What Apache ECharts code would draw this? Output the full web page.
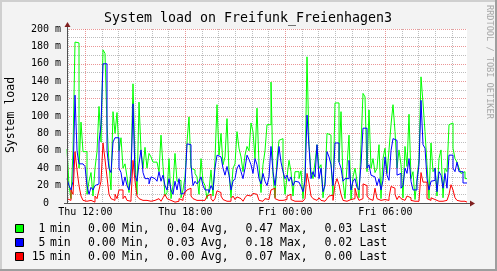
<!DOCTYPE html>
<html><head><meta charset="utf-8">
<script src="https://cdn.jsdelivr.net/npm/echarts@6/dist/echarts.min.js"></script>
<style>html,body{margin:0;padding:0;background:#f3f3f3}#c{width:497px;height:271px}</style>
</head><body><div id="c"></div>
<script>
// time axis in hours since Thu 00:00; first sample starts Thu 10:54, 7.2 min per sample
const startHour = 10.9;
const stepHours = 0.12;

// load values in milli (m)
const load1 = [
 62,20,5,60,185,184,40,93,59,59,
 10,25,35,8,40,59,111,70,176,172,
 90,45,15,105,80,104,60,75,40,45,
 30,12,40,137,50,10,116,60,40,64,
 40,57,53,47,47,45,36,78,42,8,
 12,51,5,20,57,25,26,6,15,30,
 70,99,40,38,34,30,10,51,25,20,
 5,15,38,8,50,113,55,80,44,53,
 97,36,6,40,45,82,63,53,36,55,
 65,60,92,82,51,109,44,12,44,60,
 90,90,139,32,6,50,72,74,40,10,
 30,49,36,8,36,36,28,37,5,32,
 168,67,36,28,47,67,40,44,6,25,
 80,78,46,8,115,115,47,105,25,5,
 42,78,4,30,40,25,6,67,126,122,
 36,107,40,51,35,40,67,5,51,63,
 34,61,90,113,82,40,61,44,6,65,
 42,102,28,36,4,28,51,145,115,82,
 44,5,69,36,40,8,51,61,6,40,
 36,90,92,63,51,47,40,34,36,28
];
const load5 = [
 28,20,15,25,124,60,45,45,47,42,
 20,10,18,15,20,22,70,90,160,160,
 60,40,35,70,75,75,40,35,20,30,
 20,15,30,114,32,25,45,61,35,28,
 28,22,30,28,30,25,36,25,32,20,
 15,28,15,10,25,15,28,10,12,20,
 68,67,44,20,25,22,25,30,20,15,
 15,12,20,15,40,55,53,53,40,32,
 42,32,15,25,28,40,44,36,28,40,
 55,50,44,34,51,44,28,22,34,25,
 20,30,65,36,20,40,65,47,36,28,
 32,25,30,20,25,24,25,19,13,25,
 101,65,28,36,30,67,28,40,13,20,
 59,53,44,20,69,69,47,40,25,28,
 28,49,15,25,28,18,15,44,86,86,
 40,44,32,30,30,20,28,15,26,53,
 32,26,60,74,72,32,34,17,20,40,
 34,51,25,15,15,25,44,118,67,63,
 28,15,25,26,40,13,36,32,17,34,
 17,55,55,40,36,47,36,36,23,23
];
const load15 = [
 5,3,15,10,59,38,20,8,3,2,
 2,3,2,1,8,5,15,25,69,50,
 30,10,5,3,10,5,15,15,5,8,
 3,2,5,49,25,8,5,3,2,3,
 2,2,4,3,2,5,3,2,6,10,
 5,3,2,1,3,2,5,3,6,12,
 15,17,8,5,3,2,3,3,3,2,
 8,10,5,2,5,14,12,8,4,2,
 3,2,5,8,4,7,5,3,2,6,
 9,8,9,11,10,8,3,2,3,5,
 4,3,15,17,5,3,2,3,2,4,
 8,10,4,2,3,2,1,2,2,5,
 34,23,8,5,3,4,6,3,2,3,
 5,8,9,3,21,28,21,10,3,2,
 3,4,2,5,17,8,3,5,22,20,
 8,5,3,4,17,5,3,2,4,5,
 3,6,19,17,10,4,8,5,3,5,
 8,6,3,2,1,2,4,35,24,24,
 5,3,6,4,3,2,3,2,1,3,
 4,10,21,15,6,3,2,3,2,1
];

const xMajorTicks = [12, 18, 24, 30];
const xMajorLabels = ['Thu 12:00', 'Thu 18:00', 'Fri 00:00', 'Fri 06:00'];
const xMinorTicks = [11,13,14,15,16,17,19,20,21,22,23,25,26,27,28,29,31,32,33,34];
const yMin = 0, yMax = 200, yStep = 20;

const legendNames = ['1 min', '5 min', '15 min'];
const legendColors = ['#00ff00', '#0000ff', '#ff0000'];
const legendMin = ['0.00', '0.00', '0.00'];
const legendAvg = ['0.04', '0.03', '0.00'];
const legendMax = ['0.47', '0.18', '0.07'];
const legendLast = ['0.03', '0.02', '0.00'];

const titleText = 'System load on Freifunk_Freienhagen3';
const yName = 'System load';
const watermark = 'RRDTOOL / TOBI OETIKER';

// layout
const G = {left: 67, top: 29, width: 400, height: 174};
const MONO = '"DejaVu Sans Mono", monospace';

function toPairs(arr) {
  const p = arr.map((v, i) => [startHour + i * stepHours, v]);
  p.push([startHour + arr.length * stepHours, arr[arr.length - 1]]);
  return p;
}
const xMin = startHour, xMax = startHour + load1.length * stepHours;

const chart = echarts.init(document.getElementById('c'), null, {renderer: 'canvas'});

const graphics = [];
// frame
graphics.push({type:'rect', shape:{x:0,y:0,width:497,height:2}, style:{fill:'#cfcfcf'}, silent:true});
graphics.push({type:'rect', shape:{x:0,y:0,width:2,height:271}, style:{fill:'#cfcfcf'}, silent:true});
graphics.push({type:'rect', shape:{x:495,y:0,width:2,height:271}, style:{fill:'#9e9e9e'}, silent:true});
graphics.push({type:'rect', shape:{x:0,y:269,width:497,height:2}, style:{fill:'#9e9e9e'}, silent:true});
// title
graphics.push({type:'text', x:248, y:19, style:{text:titleText, font:'13.3px ' + MONO, fill:'#000', align:'center', verticalAlign:'middle'}, silent:true});
// y name
graphics.push({type:'text', x:11, y:115, rotation:Math.PI/2, style:{text:yName, font:'11.5px ' + MONO, fill:'#000', align:'center', verticalAlign:'middle'}, silent:true});
// watermark
graphics.push({type:'text', x:489, y:5, rotation:-Math.PI/2, style:{text:watermark, font:'8.6px ' + MONO, fill:'#a8a8a8', align:'left', verticalAlign:'middle'}, silent:true});
// axes lines and arrows
const axisCol = '#505050', arrowCol = '#7f1f1f';
const x0 = G.left + 0.5, y0 = G.top + G.height + 0.5;
graphics.push({type:'line', shape:{x1:x0, y1:y0, x2:x0, y2:G.top - 3}, style:{stroke:axisCol, lineWidth:1}, silent:true, z:100});
graphics.push({type:'line', shape:{x1:G.left - 3, y1:y0, x2:G.left + G.width + 3, y2:y0}, style:{stroke:axisCol, lineWidth:1}, silent:true, z:100});
graphics.push({type:'polygon', shape:{points:[[x0, G.top - 7],[x0 - 3, G.top - 2],[x0 + 3, G.top - 2]]}, style:{fill:arrowCol}, silent:true, z:100});
graphics.push({type:'polygon', shape:{points:[[G.left + G.width + 8, y0],[G.left + G.width + 3, y0 - 3],[G.left + G.width + 3, y0 + 3]]}, style:{fill:arrowCol}, silent:true, z:100});
// legend
const rowY = [229, 243, 257];
const legFont = '11.5px ' + MONO;
legendNames.forEach((name, i) => {
  const parts = name.split(' ');
  const cy = rowY[i];
  graphics.push({type:'rect', shape:{x:15.5, y:cy - 4.5, width:8, height:8}, style:{fill:legendColors[i], stroke:'#000', lineWidth:1}, silent:true});
  const t = (text, x, align) => graphics.push({type:'text', x:x, y:cy, style:{text:text, font:legFont, fill:'#000', align:align || 'left', verticalAlign:'middle'}, silent:true});
  t(parts[0], 45.5, 'right');
  t(parts[1], 50);
  t(legendMin[i], 88);  t('Min,', 122);
  t(legendAvg[i], 167); t('Avg,', 201);
  t(legendMax[i], 245.5); t('Max,', 280);
  t(legendLast[i], 324.5); t('Last', 359.5);
});

const mkSeries = (data, color) => ({
  type:'line', xAxisIndex:0, yAxisIndex:0, data: toPairs(data), step:'end', symbol:'none', showSymbol:false,
  lineStyle:{color:color, width:1}, itemStyle:{color:color}, animation:false, silent:true
});

chart.setOption({
  backgroundColor:'#f3f3f3',
  animation:false,
  grid:{left:G.left, top:G.top, width:G.width, height:G.height, show:true, backgroundColor:'#ffffff', borderWidth:0, containLabel:false},
  xAxis:[{
    type:'value', min:xMin, max:xMax,
    axisLine:{show:false},
    axisTick:{show:false, customValues:xMajorTicks},
    axisLabel:{show:true, customValues:xMajorTicks, margin:4, color:'#000', fontFamily:'DejaVu Sans Mono', fontSize:10,
      formatter:(v) => { const k = xMajorTicks.indexOf(v); return k >= 0 ? xMajorLabels[k] : ''; }},
    splitLine:{show:true, lineStyle:{color:'rgba(222,80,80,0.6)', width:1, type:[1,1]}},
    z:2
  },{
    type:'value', min:xMin, max:xMax, gridIndex:0,
    axisLine:{show:false},
    axisTick:{show:false, customValues:xMinorTicks},
    axisLabel:{show:false, customValues:xMinorTicks},
    splitLine:{show:true, lineStyle:{color:'#bdbdbd', width:1, type:[1,1]}},
    z:1
  }],
  yAxis:{
    type:'value', min:yMin, max:yMax, interval:yStep,
    axisLine:{show:false}, axisTick:{show:false},
    axisLabel:{margin:6, color:'#000', fontFamily:'DejaVu Sans Mono', fontSize:10,
      formatter:(v) => v === 0 ? '0  ' : v + ' m'},
    splitLine:{show:true, lineStyle:{color:'rgba(222,80,80,0.6)', width:1, type:[1,1]}},
    minorTick:{show:false, splitNumber:2},
    minorSplitLine:{show:true, lineStyle:{color:'#bdbdbd', width:1, type:[1,1]}}
  },
  graphic: graphics,
  series:[ mkSeries(load1, '#00ff00'), mkSeries(load5, '#0000ff'), mkSeries(load15, '#ff0000') ]
});
</script>
</body></html>
